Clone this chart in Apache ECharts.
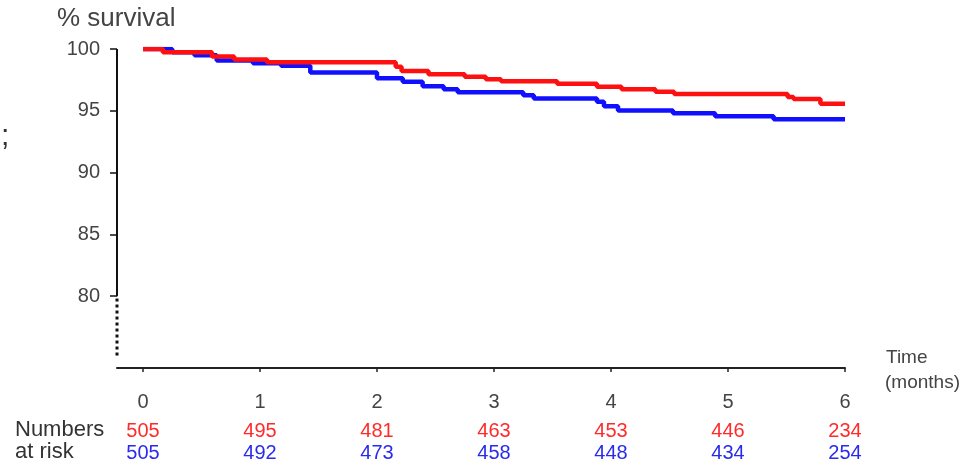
<!DOCTYPE html>
<html>
<head>
<meta charset="utf-8">
<script src="https://cdn.jsdelivr.net/npm/echarts@6/dist/echarts.min.js"></script>
<style>html,body{margin:0;padding:0;background:#fff}#c{width:964px;height:464px}</style>
</head>
<body>
<div id="c"></div>
<script>
const months = [0, 1, 2, 3, 4, 5, 6];
const redRisk = [505, 495, 481, 463, 453, 446, 234];
const blueRisk = [505, 492, 473, 458, 448, 434, 254];
const yTicks = [80, 85, 90, 95, 100];
const redTimes = [0, 0.17, 0.59, 0.78, 1.06, 2.16, 2.21, 2.44, 2.75, 2.93, 3.06, 3.54, 3.88, 4.09, 4.38, 4.54, 5.51, 5.56, 5.79, 6];
const redSurv  = [100, 99.73, 99.39, 99.15, 98.93, 98.57, 98.22, 97.96, 97.75, 97.56, 97.39, 97.19, 96.95, 96.75, 96.55, 96.36, 96.12, 95.95, 95.57, 95.57];
const blueTimes = [0, 0.25, 0.44, 0.63, 0.94, 1.18, 1.43, 2.0, 2.22, 2.39, 2.57, 2.69, 3.25, 3.34, 3.88, 3.94, 4.06, 4.53, 4.89, 5.39, 6];
const blueSurv  = [100, 99.73, 99.5, 99.07, 98.84, 98.65, 98.1, 97.63, 97.35, 96.98, 96.74, 96.5, 96.25, 96.0, 95.74, 95.36, 95.02, 94.8, 94.56, 94.31, 94.31];

const X_MIN = -0.222, X_MAX = 6;
const FONT = '"Liberation Sans", Arial, sans-serif';
const zip = (a, b) => a.map((v, i) => [v, b[i]]);

const chart = echarts.init(document.getElementById('c'), null, {renderer: 'canvas'});
const riskAxis = (arr, color, offset) => ({
  type: 'value', min: X_MIN, max: X_MAX, position: 'bottom', offset: offset,
  axisLine: {show: false, onZero: false}, axisTick: {show: false}, splitLine: {show: false},
  axisLabel: {
    customValues: months, margin: 0, fontSize: 20, fontFamily: FONT, color: color,
    formatter: v => { const i = months.indexOf(Math.round(v)); return i >= 0 ? String(arr[i]) : ''; }
  }
});
chart.setOption({
  animation: false,
  backgroundColor: '#fff',
  grid: {left: 117, right: 119, top: 49, bottom: 106},
  graphic: [
    {type: 'text', left: 57, top: 6, style: {text: '% survival', fontSize: 26, fontFamily: FONT, fill: '#444'}},
    {type: 'text', left: 886, top: 348, style: {text: 'Time', fontSize: 19, fontFamily: FONT, fill: '#444'}},
    {type: 'text', left: 885, top: 373, style: {text: '(months)', fontSize: 19, fontFamily: FONT, fill: '#444'}},
    {type: 'text', left: 15, top: 419, style: {text: 'Numbers', fontSize: 22, fontFamily: FONT, fill: '#333'}},
    {type: 'text', left: 15, top: 441, style: {text: 'at risk', fontSize: 22, fontFamily: FONT, fill: '#333'}},
    {type: 'text', left: 1, top: 122, style: {text: ';', fontSize: 30, fontFamily: FONT, fill: '#333'}}
  ],
  xAxis: [
    {
      type: 'value', min: X_MIN, max: X_MAX, position: 'bottom', offset: 10,
      axisLine: {show: true, onZero: false, lineStyle: {color: '#222', width: 2}},
      axisTick: {show: true, customValues: months, length: 4, inside: false, lineStyle: {color: '#222', width: 1.5}},
      axisLabel: {customValues: months, margin: 24, fontSize: 20, fontFamily: FONT, color: '#444'},
      splitLine: {show: false}
    },
    riskAxis(redRisk, '#ff2a2a', 63),
    riskAxis(blueRisk, '#2a2aee', 85)
  ],
  yAxis: {
    type: 'value', min: 75, max: 100, position: 'left',
    axisLine: {show: false, onZero: false},
    axisTick: {show: true, customValues: yTicks, length: 7, lineStyle: {color: '#111', width: 1.5}},
    axisLabel: {customValues: yTicks, margin: 17, fontSize: 20, fontFamily: FONT, color: '#444'},
    splitLine: {show: false}
  },
  series: [
    {type: 'line', xAxisIndex: 0, data: [[X_MIN, 80], [X_MIN, 100]], symbol: 'none', clip: false,
      lineStyle: {color: '#111', width: 2}, silent: true},
    {type: 'line', xAxisIndex: 0, data: [[X_MIN, 75.2], [X_MIN, 80]], symbol: 'none', clip: false,
      lineStyle: {color: '#111', width: 3, type: [3, 3]}, silent: true},
    {name: 'blue', type: 'line', xAxisIndex: 0, step: 'end', data: zip(blueTimes, blueSurv), symbol: 'none',
      lineStyle: {color: '#1010ff', width: 4.5}, z: 3},
    {name: 'red', type: 'line', xAxisIndex: 0, step: 'end', data: zip(redTimes, redSurv), symbol: 'none',
      lineStyle: {color: '#ff1010', width: 4.5}, z: 4}
  ]
});
</script>
</body>
</html>
